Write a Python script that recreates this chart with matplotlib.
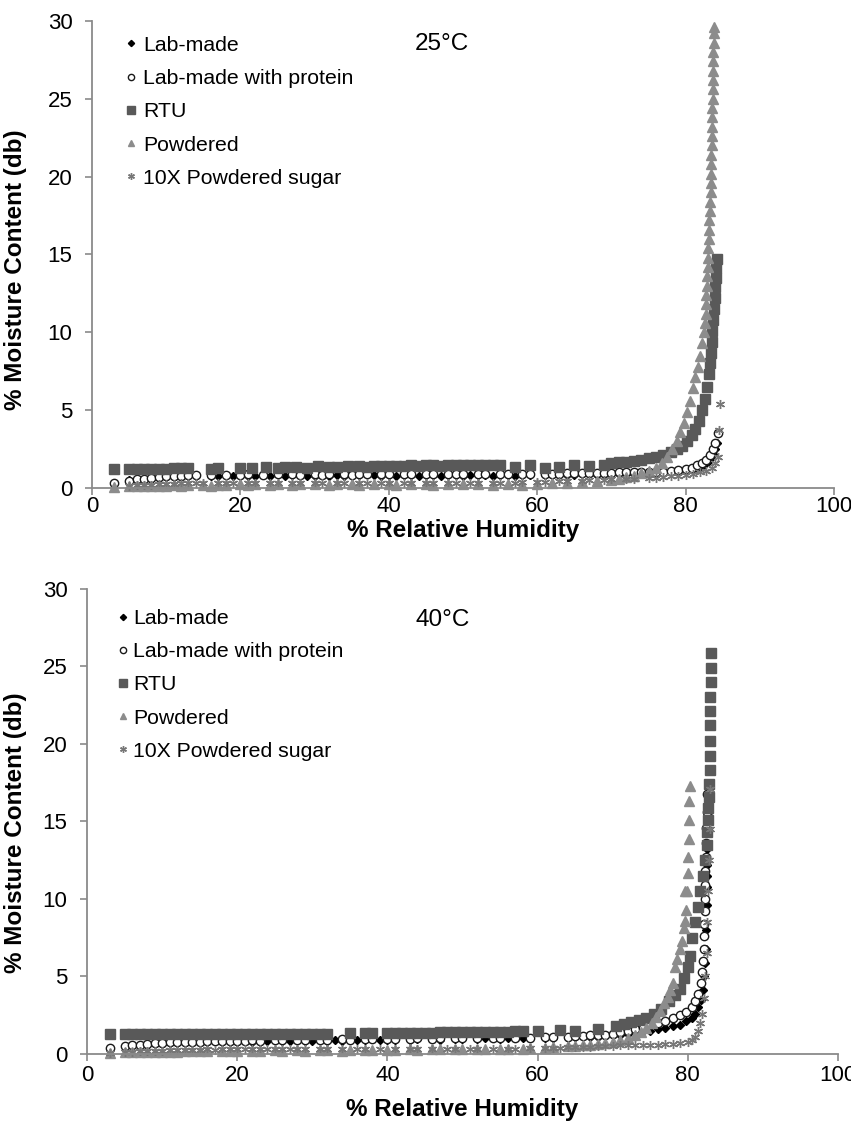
import matplotlib
matplotlib.use("Agg")
import matplotlib.pyplot as plt

plt.rcParams['font.family'] = ['Liberation Sans', 'DejaVu Sans']

labels = ["Lab-made", "Lab-made with protein", "RTU", "Powdered", "10X Powdered sugar"]

# ---- 25 C ----
lab25_x = [5, 6, 7, 8, 9, 10, 11, 12, 13, 14,
           16, 17, 19, 20, 21, 22, 23, 24, 26, 27,
           29, 30, 31, 32, 33, 34, 35, 36, 38, 39,
           40, 41, 42, 43, 44, 45, 46, 47, 48, 49,
           50, 51, 52, 53, 54, 55, 56, 57, 58, 59,
           61, 62, 64, 65, 66, 68, 69, 70, 71, 72,
           73, 74, 75, 76, 77, 78, 79, 80, 81, 81.8,
           82.5, 83, 83.4, 83.7, 84, 84.2]
lab25_y = [0.5, 0.55, 0.6, 0.6, 0.65, 0.7, 0.7, 0.75, 0.75, 0.8,
           0.8, 0.8, 0.75, 0.8, 0.8, 0.8, 0.85, 0.8, 0.8, 0.85,
           0.8, 0.8, 0.85, 0.8, 0.85, 0.8, 0.8, 0.85, 0.85, 0.8,
           0.85, 0.8, 0.85, 0.85, 0.8, 0.85, 0.85, 0.8, 0.85, 0.85,
           0.8, 0.85, 0.85, 0.85, 0.8, 0.85, 0.85, 0.8, 0.85, 0.85,
           0.85, 0.85, 0.85, 0.85, 0.9, 0.85, 0.9, 0.9, 0.9, 0.9,
           0.9, 0.95, 0.95, 0.95, 1.0, 1.0, 1.05, 1.1, 1.15, 1.3,
           1.5, 1.7, 1.9, 2.2, 2.5, 2.9]

prot25_x = [3, 5, 6, 7, 8, 9, 10, 11, 12, 13,
            14, 16, 18, 20, 21, 23, 25, 27, 28, 30,
            31, 32, 34, 35, 36, 37, 39, 40, 42, 43,
            45, 46, 48, 49, 50, 52, 53, 55, 56, 58,
            59, 61, 62, 63, 64, 65, 66, 67, 68, 69,
            70, 71, 72, 73, 74, 75, 76, 77, 78, 79,
            80, 80.8, 81.5, 82.2, 82.8, 83.3, 83.7, 84, 84.3]
prot25_y = [0.3, 0.45, 0.55, 0.6, 0.65, 0.7, 0.75, 0.8, 0.8, 0.85,
            0.85, 0.85, 0.85, 0.85, 0.9, 0.85, 0.9, 0.9, 0.85, 0.9,
            0.85, 0.9, 0.9, 0.85, 0.9, 0.9, 0.9, 0.9, 0.9, 0.9,
            0.9, 0.9, 0.9, 0.9, 0.9, 0.9, 0.9, 0.9, 0.9, 0.9,
            0.9, 0.9, 0.9, 0.9, 0.95, 0.95, 0.95, 0.95, 0.95, 0.95,
            0.95, 1.0, 1.0, 1.0, 1.0, 1.0, 1.05, 1.05, 1.1, 1.15,
            1.2, 1.3, 1.45, 1.6, 1.8, 2.1, 2.5, 2.9, 3.5]

rtu25_x = [3, 5, 6, 7, 8, 9, 10, 11, 12, 13,
           16, 17, 20, 21.5, 23.5, 25, 26, 27.5, 29, 30.5,
           32, 33, 34.5, 36, 37, 38, 39, 40, 41, 42,
           43, 44, 45, 46, 47, 48, 49, 50, 51, 52,
           53, 54, 55, 57, 59, 61, 63, 65, 67, 69,
           70, 71, 72, 73, 74, 75, 76, 77, 78, 78.8,
           79.5, 80.2, 80.8, 81.3, 81.8, 82.2, 82.6, 82.9, 83.1, 83.3,
           83.4, 83.5, 83.6, 83.7, 83.8, 83.9, 84.0, 84.1, 84.1, 84.2]
rtu25_y = [1.2, 1.2, 1.2, 1.25, 1.2, 1.25, 1.25, 1.3, 1.3, 1.3,
           1.25, 1.3, 1.3, 1.3, 1.35, 1.3, 1.35, 1.35, 1.3, 1.4,
           1.35, 1.35, 1.4, 1.4, 1.35, 1.4, 1.4, 1.4, 1.4, 1.4,
           1.45, 1.4, 1.45, 1.45, 1.4, 1.45, 1.45, 1.45, 1.5, 1.45,
           1.45, 1.5, 1.45, 1.35, 1.45, 1.3, 1.35, 1.45, 1.4, 1.5,
           1.6, 1.65, 1.7, 1.75, 1.8, 1.9, 2.0, 2.1, 2.3, 2.5,
           2.7, 3.0, 3.4, 3.8, 4.3, 5.0, 5.7, 6.5, 7.3, 8.0,
           8.7, 9.4, 10.1, 10.8, 11.5, 12.2, 12.9, 13.5, 14.1, 14.7]

pow25_x = [3, 5, 6, 7, 8, 9, 10, 11, 12, 13,
           15, 16, 17, 18, 20, 21, 22, 24, 25, 27,
           28, 30, 32, 33, 35, 36, 38, 40, 41, 43,
           45, 46, 48, 50, 52, 54, 56, 58, 60, 62,
           64, 66, 68, 70, 71, 72, 73, 74, 75, 76,
           76.8, 77.5, 78.2, 78.8, 79.3, 79.8, 80.2, 80.6, 81.0, 81.3,
           81.6, 81.9, 82.2, 82.5, 82.6, 82.7, 82.75, 82.8, 82.85, 82.9,
           82.95, 83.0, 83.05, 83.1, 83.15, 83.2, 83.25, 83.3, 83.35, 83.4,
           83.42, 83.45, 83.48, 83.5, 83.52, 83.55, 83.58, 83.6, 83.62, 83.65,
           83.68, 83.7, 83.72, 83.75, 83.77, 83.8, 83.82]
pow25_y = [0.05, 0.1, 0.1, 0.15, 0.1, 0.15, 0.15, 0.2, 0.15, 0.2,
           0.2, 0.15, 0.2, 0.2, 0.25, 0.2, 0.25, 0.2, 0.25, 0.2,
           0.25, 0.25, 0.2, 0.25, 0.25, 0.2, 0.25, 0.25, 0.2, 0.25,
           0.25, 0.2, 0.25, 0.25, 0.25, 0.2, 0.25, 0.2, 0.25, 0.3,
           0.35, 0.4, 0.45, 0.5, 0.6, 0.7, 0.8, 0.95, 1.1, 1.3,
           1.6, 2.0, 2.5, 3.0, 3.6, 4.2, 4.9, 5.6, 6.4, 7.1,
           7.8, 8.5, 9.3, 10.0, 10.6, 11.2, 11.8, 12.4, 13.0, 13.6,
           14.2, 14.8, 15.4, 16.0, 16.6, 17.2, 17.8, 18.4, 19.0, 19.6,
           20.2, 20.8, 21.4, 22.0, 22.6, 23.2, 23.8, 24.4, 25.0, 25.6,
           26.2, 26.8, 27.4, 28.0, 28.6, 29.2, 29.6]

sug25_x = [5, 6, 7, 8, 9, 10, 11, 12, 13, 14,
           15, 17, 18, 19, 21, 22, 24, 25, 27, 28,
           30, 31, 33, 34, 36, 37, 39, 40, 42, 43,
           45, 46, 48, 49, 51, 52, 54, 55, 57, 58,
           60, 61, 63, 64, 66, 67, 69, 70, 72, 73,
           75, 76, 77, 78, 79, 80, 81, 82, 82.8, 83.5,
           84, 84.3, 84.5, 84.6]
sug25_y = [0.15, 0.2, 0.2, 0.2, 0.25, 0.25, 0.25, 0.3, 0.3, 0.3,
           0.3, 0.3, 0.3, 0.35, 0.3, 0.35, 0.3, 0.35, 0.35, 0.3,
           0.35, 0.35, 0.3, 0.35, 0.35, 0.3, 0.35, 0.35, 0.35, 0.3,
           0.35, 0.35, 0.35, 0.3, 0.35, 0.35, 0.35, 0.35, 0.35, 0.4,
           0.4, 0.4, 0.45, 0.45, 0.45, 0.5, 0.5, 0.55, 0.55, 0.6,
           0.65, 0.65, 0.7, 0.75, 0.8, 0.85, 0.9, 1.0, 1.1, 1.3,
           1.6, 2.0, 3.7, 5.4]

# ---- 40 C ----
lab40_x = [5, 6, 7, 8, 9, 10, 11, 12, 13, 14,
           15, 16, 18, 19, 20, 22, 23, 24, 26, 27,
           29, 30, 32, 33, 34, 36, 37, 39, 40, 41,
           43, 44, 46, 47, 49, 50, 52, 53, 55, 56,
           58, 59, 61, 62, 64, 65, 67, 68, 70, 71,
           72, 73, 74, 75, 76, 77, 78, 79, 79.8, 80.5,
           81, 81.4, 81.7, 82, 82.2, 82.3, 82.4, 82.45, 82.5, 82.5,
           82.55, 82.6, 82.6, 82.65, 82.7]
lab40_y = [0.5, 0.55, 0.6, 0.6, 0.65, 0.65, 0.7, 0.7, 0.7, 0.75,
           0.75, 0.75, 0.8, 0.8, 0.8, 0.8, 0.8, 0.85, 0.85, 0.85,
           0.85, 0.85, 0.85, 0.9, 0.85, 0.9, 0.9, 0.9, 0.9, 0.9,
           0.9, 0.95, 0.95, 0.9, 0.95, 0.95, 0.95, 1.0, 0.95, 1.0,
           1.0, 1.0, 1.05, 1.05, 1.05, 1.1, 1.1, 1.1, 1.2, 1.25,
           1.3, 1.4, 1.45, 1.5, 1.6, 1.7, 1.8, 1.9, 2.1, 2.3,
           2.6, 3.0, 3.5, 4.1, 5.0, 5.9, 6.8, 8.0, 9.6, 10.8,
           11.5, 12.2, 13.2, 14.3, 15.4]

prot40_x = [3, 5, 6, 7, 8, 9, 10, 11, 12, 13,
            14, 15, 16, 17, 18, 19, 20, 21, 22, 23,
            25, 26, 28, 29, 31, 32, 34, 35, 37, 38,
            40, 41, 43, 44, 46, 47, 49, 50, 52, 54,
            55, 57, 59, 61, 62, 64, 65, 66, 67, 68,
            69, 70, 71, 72, 73, 74, 75, 76, 77, 78,
            79, 79.8, 80.5, 81, 81.4, 81.7, 81.9, 82.0, 82.1, 82.15,
            82.2, 82.25, 82.3, 82.3, 82.35, 82.4, 82.4, 82.45, 82.5, 82.55]
prot40_y = [0.4, 0.5, 0.55, 0.6, 0.65, 0.7, 0.7, 0.75, 0.75, 0.8,
            0.8, 0.8, 0.85, 0.85, 0.85, 0.85, 0.85, 0.85, 0.9, 0.85,
            0.9, 0.9, 0.9, 0.9, 0.9, 0.9, 0.95, 0.9, 0.95, 0.95,
            0.95, 0.95, 0.95, 1.0, 0.95, 1.0, 1.0, 1.0, 1.0, 1.0,
            1.05, 1.0, 1.05, 1.1, 1.1, 1.1, 1.15, 1.15, 1.2, 1.2,
            1.25, 1.3, 1.4, 1.5, 1.6, 1.7, 1.85, 2.0, 2.15, 2.3,
            2.5, 2.7, 3.0, 3.4, 3.9, 4.6, 5.3, 6.0, 6.8, 7.6,
            8.4, 9.2, 10.0, 10.9, 11.8, 12.7, 13.6, 14.6, 15.6, 16.8]

rtu40_x = [3, 5, 6, 7, 8, 9, 10, 11, 12, 13,
           14, 15, 16, 17, 18, 19, 20, 21, 22, 23,
           24, 25, 26, 27, 28, 29, 30, 31, 32, 35,
           37, 38, 40, 41, 42, 43, 44, 45, 46, 47,
           48, 49, 50, 51, 52, 53, 54, 55, 56, 57,
           58, 60, 63, 65, 68, 70.5, 71.5, 72.5, 73.5, 74.5,
           75.5, 76.5, 77.5, 78.3, 79, 79.5, 80, 80.3, 80.6, 81,
           81.3, 81.6, 82, 82.3, 82.5, 82.6, 82.7, 82.75, 82.8, 82.85,
           82.9, 82.9, 82.95, 82.95, 83, 83, 83.05, 83.05, 83.1]
rtu40_y = [1.3, 1.3, 1.3, 1.3, 1.3, 1.3, 1.3, 1.3, 1.3, 1.3,
           1.3, 1.3, 1.3, 1.3, 1.3, 1.3, 1.3, 1.3, 1.3, 1.3,
           1.3, 1.3, 1.3, 1.3, 1.3, 1.3, 1.3, 1.3, 1.3, 1.35,
           1.35, 1.35, 1.35, 1.35, 1.35, 1.35, 1.35, 1.35, 1.35, 1.4,
           1.4, 1.4, 1.4, 1.4, 1.4, 1.4, 1.4, 1.4, 1.4, 1.45,
           1.45, 1.5, 1.55, 1.5, 1.6, 1.8, 1.95, 2.05, 2.2, 2.35,
           2.6, 2.9, 3.4, 3.8, 4.2, 4.9, 5.6, 6.3, 7.5, 8.5,
           9.5, 10.5, 11.5, 12.5, 13.5, 14.3, 15.1, 15.9, 16.6, 17.4,
           18.3, 19.2, 20.2, 21.2, 22.1, 23.0, 24.0, 24.9, 25.9]

pow40_x = [3, 5, 6, 7, 8, 9, 10, 11, 12, 13,
           14, 15, 16, 18, 19, 20, 22, 23, 25, 26,
           28, 29, 31, 32, 34, 35, 37, 38, 40, 41,
           43, 44, 46, 47, 49, 50, 52, 53, 55, 56,
           58, 59, 61, 62, 64, 65, 66, 67, 68, 69,
           70, 71, 72, 73, 73.8, 74.5, 75.2, 75.8, 76.3, 76.8,
           77.3, 77.6, 78.0, 78.3, 78.6, 79.0, 79.2, 79.5, 79.6, 79.8,
           79.6, 79.9, 80.0, 80.0, 80.1, 80.2, 80.2, 80.3]
pow40_y = [0.05, 0.1, 0.1, 0.1, 0.15, 0.15, 0.15, 0.15, 0.15, 0.2,
           0.2, 0.2, 0.2, 0.2, 0.2, 0.2, 0.2, 0.2, 0.25, 0.2,
           0.25, 0.2, 0.25, 0.25, 0.2, 0.25, 0.25, 0.25, 0.25, 0.25,
           0.3, 0.25, 0.3, 0.3, 0.3, 0.3, 0.3, 0.3, 0.35, 0.35,
           0.35, 0.4, 0.4, 0.45, 0.5, 0.5, 0.55, 0.6, 0.65, 0.7,
           0.8, 0.9, 1.0, 1.2, 1.4, 1.7, 2.0, 2.4, 2.8, 3.3,
           3.7, 4.1, 4.6, 5.6, 6.1, 6.8, 7.3, 8.1, 8.6, 9.3,
           10.5, 10.5, 11.7, 12.7, 13.9, 15.1, 16.3, 17.3]

sug40_x = [3, 5, 6, 7, 8, 9, 10, 11, 12, 13,
           14, 15, 16, 17, 18, 19, 20, 21, 22, 23,
           24, 25, 26, 27, 28, 29, 31, 32, 34, 36,
           37, 39, 41, 43, 44, 46, 48, 49, 51, 52,
           54, 56, 57, 59, 61, 62, 63, 64, 65, 66,
           67, 68, 69, 70, 71, 72, 73, 74, 75, 76,
           77, 78, 79, 80, 80.5, 81, 81.3, 81.6, 81.9, 82.1,
           82.3, 82.5, 82.6, 82.7, 82.8, 82.9, 83.0]
sug40_y = [0.05, 0.15, 0.15, 0.2, 0.2, 0.2, 0.2, 0.25, 0.25, 0.25,
           0.25, 0.25, 0.3, 0.25, 0.3, 0.3, 0.3, 0.3, 0.3, 0.3,
           0.3, 0.3, 0.3, 0.3, 0.3, 0.3, 0.3, 0.3, 0.3, 0.3,
           0.3, 0.3, 0.3, 0.3, 0.3, 0.3, 0.3, 0.3, 0.3, 0.35,
           0.35, 0.35, 0.35, 0.4, 0.4, 0.4, 0.4, 0.45, 0.45, 0.45,
           0.45, 0.5, 0.5, 0.5, 0.55, 0.55, 0.55, 0.6, 0.6, 0.6,
           0.65, 0.65, 0.7, 0.8, 0.9, 1.1, 1.5, 2.0, 2.6, 3.6,
           5.0, 6.5, 8.5, 10.5, 12.5, 14.5, 17.1]

# marker style per series: (marker, size, face, edge)
styles = [('D', 4.2, '#000000', '#000000'),
          ('o', 6.0, 'white', '#1a1a1a'),
          ('s', 6.8, '#595959', '#595959'),
          ('^', 6.6, '#8c8c8c', '#8c8c8c'),
          ((6, 2, 0), 6.5, '#777777', '#777777')]

gray = '#8a8a8a'


def draw_panel(ax, series, temp, leg_anchor, tpad, temp_x, temp_y, xpad):
    for (xs, ys), lab, (mk, ms, fc, ec) in zip(series, labels, styles):
        ax.plot(xs, ys, linestyle='none', marker=mk, markersize=ms,
                markerfacecolor=fc, markeredgecolor=ec, markeredgewidth=1.0,
                label=lab, clip_on=False)
    ax.set_xlim(0, 100)
    ax.set_ylim(0, 30)
    ax.set_xticks(range(0, 101, 20))
    ax.set_yticks(range(0, 31, 5))
    for s in ['top', 'right']:
        ax.spines[s].set_visible(False)
    for s in ['left', 'bottom']:
        ax.spines[s].set_color(gray)
        ax.spines[s].set_linewidth(1.3)
    ax.tick_params(axis='y', length=5, width=1.2, color=gray, pad=9, labelsize=16)
    ax.tick_params(axis='x', length=5, width=1.2, color=gray, pad=xpad, labelsize=16)
    ax.set_xlabel('% Relative Humidity', fontsize=17.5, fontweight='bold')
    ax.set_ylabel('% Moisture Content (db)', fontsize=17.5, fontweight='bold')
    ax.text(temp_x, temp_y, temp, transform=ax.transAxes, fontsize=17.5,
            va='center', ha='left')
    ax.legend(loc='upper left', bbox_to_anchor=leg_anchor, frameon=False,
              fontsize=15.3, handlelength=0.6, handletextpad=tpad,
              borderpad=0, borderaxespad=0, labelspacing=0.67,
              markerscale=0.75)


fig = plt.figure(figsize=(8.51, 11.21), dpi=100)
ax1 = fig.add_axes([0.1081, 0.5647, 0.8720, 0.4166])
ax2 = fig.add_axes([0.1022, 0.0598, 0.8825, 0.4148])

draw_panel(ax1, [(lab25_x, lab25_y), (prot25_x, prot25_y), (rtu25_x, rtu25_y),
                 (pow25_x, pow25_y), (sug25_x, sug25_y)],
           '25°C', (0.044, 0.968), 0.27, 0.435, 0.951, 0.5)
ax1.yaxis.set_label_coords(-0.0876, 0.467)
ax1.xaxis.set_label_coords(0.5, -0.066)

draw_panel(ax2, [(lab40_x, lab40_y), (prot40_x, prot40_y), (rtu40_x, rtu40_y),
                 (pow40_x, pow40_y), (sug40_x, sug40_y)],
           '40°C', (0.039, 0.957), 0.18, 0.437, 0.933, 3)
ax2.yaxis.set_label_coords(-0.080, 0.475)
ax2.xaxis.set_label_coords(0.5, -0.0946)

fig.savefig('out.png', dpi=100)
